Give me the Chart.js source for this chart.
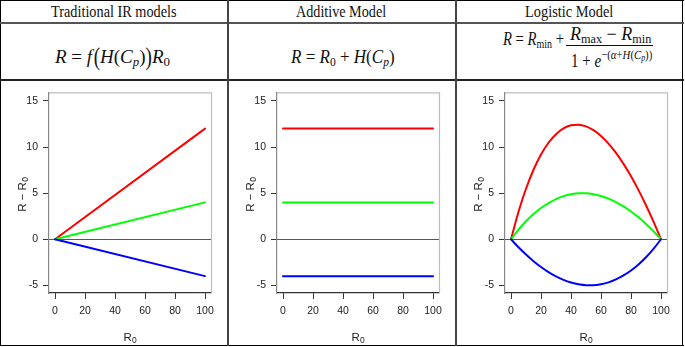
<!DOCTYPE html>
<html><head><meta charset="utf-8">
<script src="https://cdn.jsdelivr.net/npm/chart.js@4.4.1/dist/chart.umd.min.js"></script>
<style>
html,body{margin:0;padding:0;background:#fff;width:685px;height:347px;overflow:hidden;}
.ln{position:absolute;background:#333;z-index:5;}
.hdr{position:absolute;top:2px;height:20px;font-family:'Liberation Serif',serif;font-size:17px;line-height:20px;color:#111;white-space:nowrap;transform-origin:0 0;}
.fm{position:absolute;font-family:'Liberation Serif',serif;font-size:18px;line-height:20px;color:#111;white-space:nowrap;transform-origin:0 0;}
.i{font-style:italic;}
.fm sub{font-size:0.68em;line-height:0;vertical-align:-0.28em;}
.fm sup{font-size:0.72em;line-height:0;vertical-align:8px;}
.fm sup sub{font-size:0.72em;vertical-align:-0.25em;}
.bp{display:inline-block;transform:scaleY(1.35);}
.cv{position:absolute;top:81px;width:226px;height:264px;}
</style></head>
<body>
<div class="ln" style="left:0;top:0;width:684px;height:1px;background:#000"></div>
<div class="ln" style="left:0;top:345px;width:684px;height:1px;background:#000"></div>
<div class="ln" style="left:0;top:0;width:1px;height:346px;background:#000"></div>
<div class="ln" style="left:682px;top:0;width:1px;height:346px;background:#000"></div>
<div class="ln" style="left:0;top:22px;width:684px;height:2px;background:#555"></div>
<div class="ln" style="left:0;top:79px;width:684px;height:2px;background:#222"></div>
<div class="ln" style="left:227px;top:0;width:2px;height:346px;background:#444"></div>
<div class="ln" style="left:455px;top:0;width:2px;height:346px;background:#444"></div>

<div class="hdr" data-cx="113.7" data-w="126">Traditional IR models</div>
<div class="hdr" data-cx="341.3" data-w="90">Additive Model</div>
<div class="hdr" data-cx="568.5" data-w="88">Logistic Model</div>

<div class="fm" data-cx="112.5" data-w="115" style="top:47px"><span class="i">R</span> = <span class="i">f</span>&#8202;<span class="bp">(</span><span class="i">H</span>(<span class="i">C</span><sub class="i">p</sub>)<span class="bp">)</span><span class="i">R</span><sub>0</sub></div>
<div class="fm" data-cx="343" data-w="104" style="top:47px"><span class="i">R</span> = <span class="i">R</span><sub>0</sub> + <span class="i">H</span>(<span class="i">C</span><sub class="i">p</sub>)</div>

<div class="fm" data-cx="533.5" data-w="61" style="top:29px"><span class="i">R</span> = <span class="i">R</span><sub>min</sub> +</div>
<div class="fm" data-cx="610.5" data-w="81" style="top:24px"><span class="i">R</span><sub>max</sub> − <span class="i">R</span><sub>min</sub></div>
<div class="ln" style="left:566px;top:45px;width:87px;height:1.3px;background:#111"></div>
<div class="fm" data-cx="611.8" data-w="81.7" style="top:50.5px">1 + <span class="i">e</span><sup>−(<span class="i">α</span>+<span class="i">H</span>(<span class="i">C</span><sub class="i">p</sub>))</sup></div>

<canvas id="c1" class="cv" width="226" height="264" style="left:1px"></canvas>
<canvas id="c2" class="cv" width="226" height="264" style="left:229px"></canvas>
<canvas id="c3" class="cv" width="226" height="264" style="left:457px"></canvas>

<script>
// ---- data ----
const xTicks = [0, 20, 40, 60, 80, 100];
const yTicks = [-5, 0, 5, 10, 15];

const tradX = [0, 100];
const tradRed = [0, 12];
const tradGreen = [0, 4];
const tradBlue = [0, -4];

const addX = [0, 100];
const addRed = [12, 12];
const addGreen = [4, 4];
const addBlue = [-4, -4];

const logX = [0, 5, 10, 15, 20, 25, 30, 35, 40, 45, 50, 55, 60, 65, 70, 75, 80, 85, 90, 95, 100];
const logRed = [0, 2.99, 5.48, 7.54, 9.19, 10.47, 11.40, 12.03, 12.36, 12.43, 12.25, 11.83, 11.21, 10.38, 9.37, 8.18, 6.83, 5.33, 3.69, 1.91, 0];
const logGreen = [0, 1.04, 1.95, 2.73, 3.39, 3.93, 4.36, 4.68, 4.88, 4.98, 4.98, 4.89, 4.69, 4.40, 4.03, 3.56, 3.01, 2.38, 1.66, 0.87, 0];
const logBlue = [0, -0.87, -1.66, -2.38, -3.01, -3.56, -4.03, -4.40, -4.69, -4.89, -4.98, -4.98, -4.88, -4.68, -4.36, -3.93, -3.39, -2.73, -1.95, -1.04, 0];

const xTitleMain = 'R', xTitleSub = '0';
const yTitleMain = 'R − R', yTitleSub = '0';

// ---- layout helpers ----
function fitText(el){
  const w = el.offsetWidth;
  const tw = parseFloat(el.dataset.w);
  const s = tw / w;
  const cx = parseFloat(el.dataset.cx);
  el.style.left = (cx - tw / 2) + 'px';
  el.style.transform = 'scale(' + s + ',1)';
}
document.querySelectorAll('.hdr,.fm[data-w]').forEach(fitText);

const FAM = "'Liberation Sans', Arial, sans-serif";

const zeroAndBox = {
  id: 'zeroAndBox',
  beforeDatasetsDraw(chart){
    const {ctx, chartArea: a, scales: {y}} = chart;
    const y0 = Math.round(y.getPixelForValue(0)) + 0.5;
    ctx.save();
    ctx.strokeStyle = '#555';
    ctx.lineWidth = 1;
    ctx.beginPath(); ctx.moveTo(a.left, y0); ctx.lineTo(a.right, y0); ctx.stroke();
    ctx.restore();
  },
  afterDraw(chart){
    const {ctx, chartArea: a} = chart;
    ctx.save();
    ctx.lineWidth = 1.2;
    ctx.strokeStyle = '#bdbdbd';
    ctx.beginPath();
    ctx.moveTo(a.left, a.top + 0.5); ctx.lineTo(a.right + 0.5, a.top + 0.5); ctx.lineTo(a.right + 0.5, a.bottom);
    ctx.stroke();
    // axis titles with subscripts
    ctx.fillStyle = '#222';
    ctx.textBaseline = 'alphabetic';
    const main = '11.5px ' + FAM, sub = '8.5px ' + FAM;
    function subText(t, s, cx, by){
      ctx.font = main; const w1 = ctx.measureText(t).width;
      ctx.font = sub; const w2 = ctx.measureText(s).width;
      const x0 = cx - (w1 + w2) / 2;
      ctx.font = main; ctx.fillText(t, x0, by);
      ctx.font = sub; ctx.fillText(s, x0 + w1 + 0.3, by + 2.3);
    }
    subText(xTitleMain, xTitleSub, (a.left + a.right) / 2, 260);
    ctx.translate(24.5, (a.top + a.bottom) / 2 + 2);
    ctx.rotate(-Math.PI / 2);
    subText(yTitleMain, yTitleSub, 0, 0);
    ctx.restore();
  }
};

const font = {family: FAM, size: 10.5};

function makeChart(id, xs, red, green, blue){
  const pts = arr => xs.map((x, i) => ({x: x, y: arr[i]}));
  const ds = (arr, c) => ({data: pts(arr), borderColor: c, borderWidth: 2, pointRadius: 0, fill: false, cubicInterpolationMode: 'monotone', borderCapStyle: 'round'});
  return new Chart(document.getElementById(id), {
    type: 'line',
    data: {datasets: [ds(blue, '#0000ff'), ds(green, '#00ff00'), ds(red, '#ff0000')]},
    options: {
      responsive: false, animation: false, devicePixelRatio: 1,
      layout: {padding: {left: 0, right: 16, top: 3, bottom: 0}},
      plugins: {legend: {display: false}, tooltip: {enabled: false}},
      scales: {
        x: {
          type: 'linear', min: -4, max: 104,
          afterBuildTicks: s => { s.ticks = xTicks.map(v => ({value: v})); },
          afterFit: s => { s.height = 52; },
          grid: {drawOnChartArea: false, drawTicks: true, tickLength: 6, color: '#333'},
          border: {display: true, color: '#333', width: 1.2},
          ticks: {font: font, color: '#222', padding: 6, maxRotation: 0, autoSkip: false}
        },
        y: {
          type: 'linear', min: -5.83, max: 15.94,
          afterBuildTicks: s => { s.ticks = yTicks.map(v => ({value: v})); },
          afterFit: s => { s.width = 48; },
          grid: {drawOnChartArea: false, drawTicks: true, tickLength: 6, color: '#333'},
          border: {display: true, color: '#888', width: 1.2},
          ticks: {font: font, color: '#222', padding: 5, autoSkip: false}
        }
      }
    },
    plugins: [zeroAndBox]
  });
}

makeChart('c1', tradX, tradRed, tradGreen, tradBlue);
makeChart('c2', addX, addRed, addGreen, addBlue);
makeChart('c3', logX, logRed, logGreen, logBlue);
</script>
</body></html>
